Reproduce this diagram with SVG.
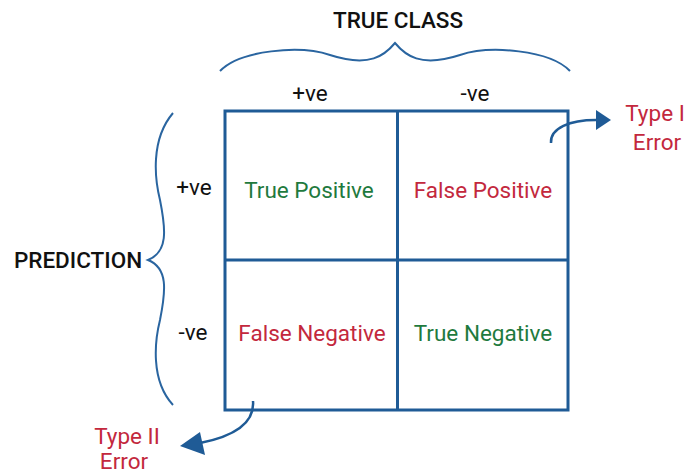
<svg xmlns="http://www.w3.org/2000/svg" width="689" height="474" viewBox="0 0 689 474">
<style>
.t{font-family:Roboto,"Liberation Sans",sans-serif;font-size:22.5px;text-anchor:middle}
.k{fill:#111}
.g{fill:#1f7a3e}
.r{fill:#c3283d}
.ln{fill:none;stroke:#1f5b96;stroke-width:3}
.br{fill:none;stroke:#2a65a0;stroke-width:2}
.ar{fill:none;stroke:#1f5b96;stroke-width:2.5}
</style>
<g id="grid">
<rect class="ln" x="225" y="111" width="343" height="299"/>
<line class="ln" x1="397.5" y1="111" x2="397.5" y2="410"/>
<line class="ln" x1="225" y1="260" x2="568" y2="260"/>
</g>
<g id="true-class">
<path class="br" d="M220,71 C240,50 300,45 330,55 C370,68 385,55 395,43 C405,55 420,68 460,55 C490,45 550,50 570,71"/>
<text class="t k" x="398" y="28" font-weight="500">TRUE CLASS</text>
<text class="t k" x="310" y="101">+ve</text>
<text class="t k" x="475" y="101">-ve</text>
</g>
<g id="prediction">
<path class="br" d="M173,113 C150,140 155,180 160,200 C166,230 168,252 148,260 C168,268 166,290 160,320 C155,340 150,380 173,405"/>
<text class="t k" x="78" y="268" font-weight="500">PREDICTION</text>
<text class="t k" x="194" y="195">+ve</text>
<text class="t k" x="193" y="340">-ve</text>
</g>
<g id="tp"><text class="t g" x="309" y="198">True Positive</text></g>
<g id="fp"><text class="t r" x="483" y="198">False Positive</text></g>
<g id="fn"><text class="t r" x="312" y="341">False Negative</text></g>
<g id="tn"><text class="t g" x="483" y="341">True Negative</text></g>
<g id="type1">
<text class="t r" x="655" y="121">Type I</text>
<text class="t r" x="657" y="150">Error</text>
</g>
<g id="type2">
<text class="t r" x="127" y="444">Type II</text>
<text class="t r" x="124" y="469">Error</text>
</g>
<g id="connectors">
<path class="ar" d="M551,143 C550,128 570,120 596,120"/>
<path d="M596,110 L611,120 L596,130 z" fill="#1f5b96"/>
<path class="ar" d="M253,401 C255,425 230,437 200,443"/>
<path d="M180,446 L200,432 L205,455 z" fill="#1f5b96"/>
</g>
</svg>
